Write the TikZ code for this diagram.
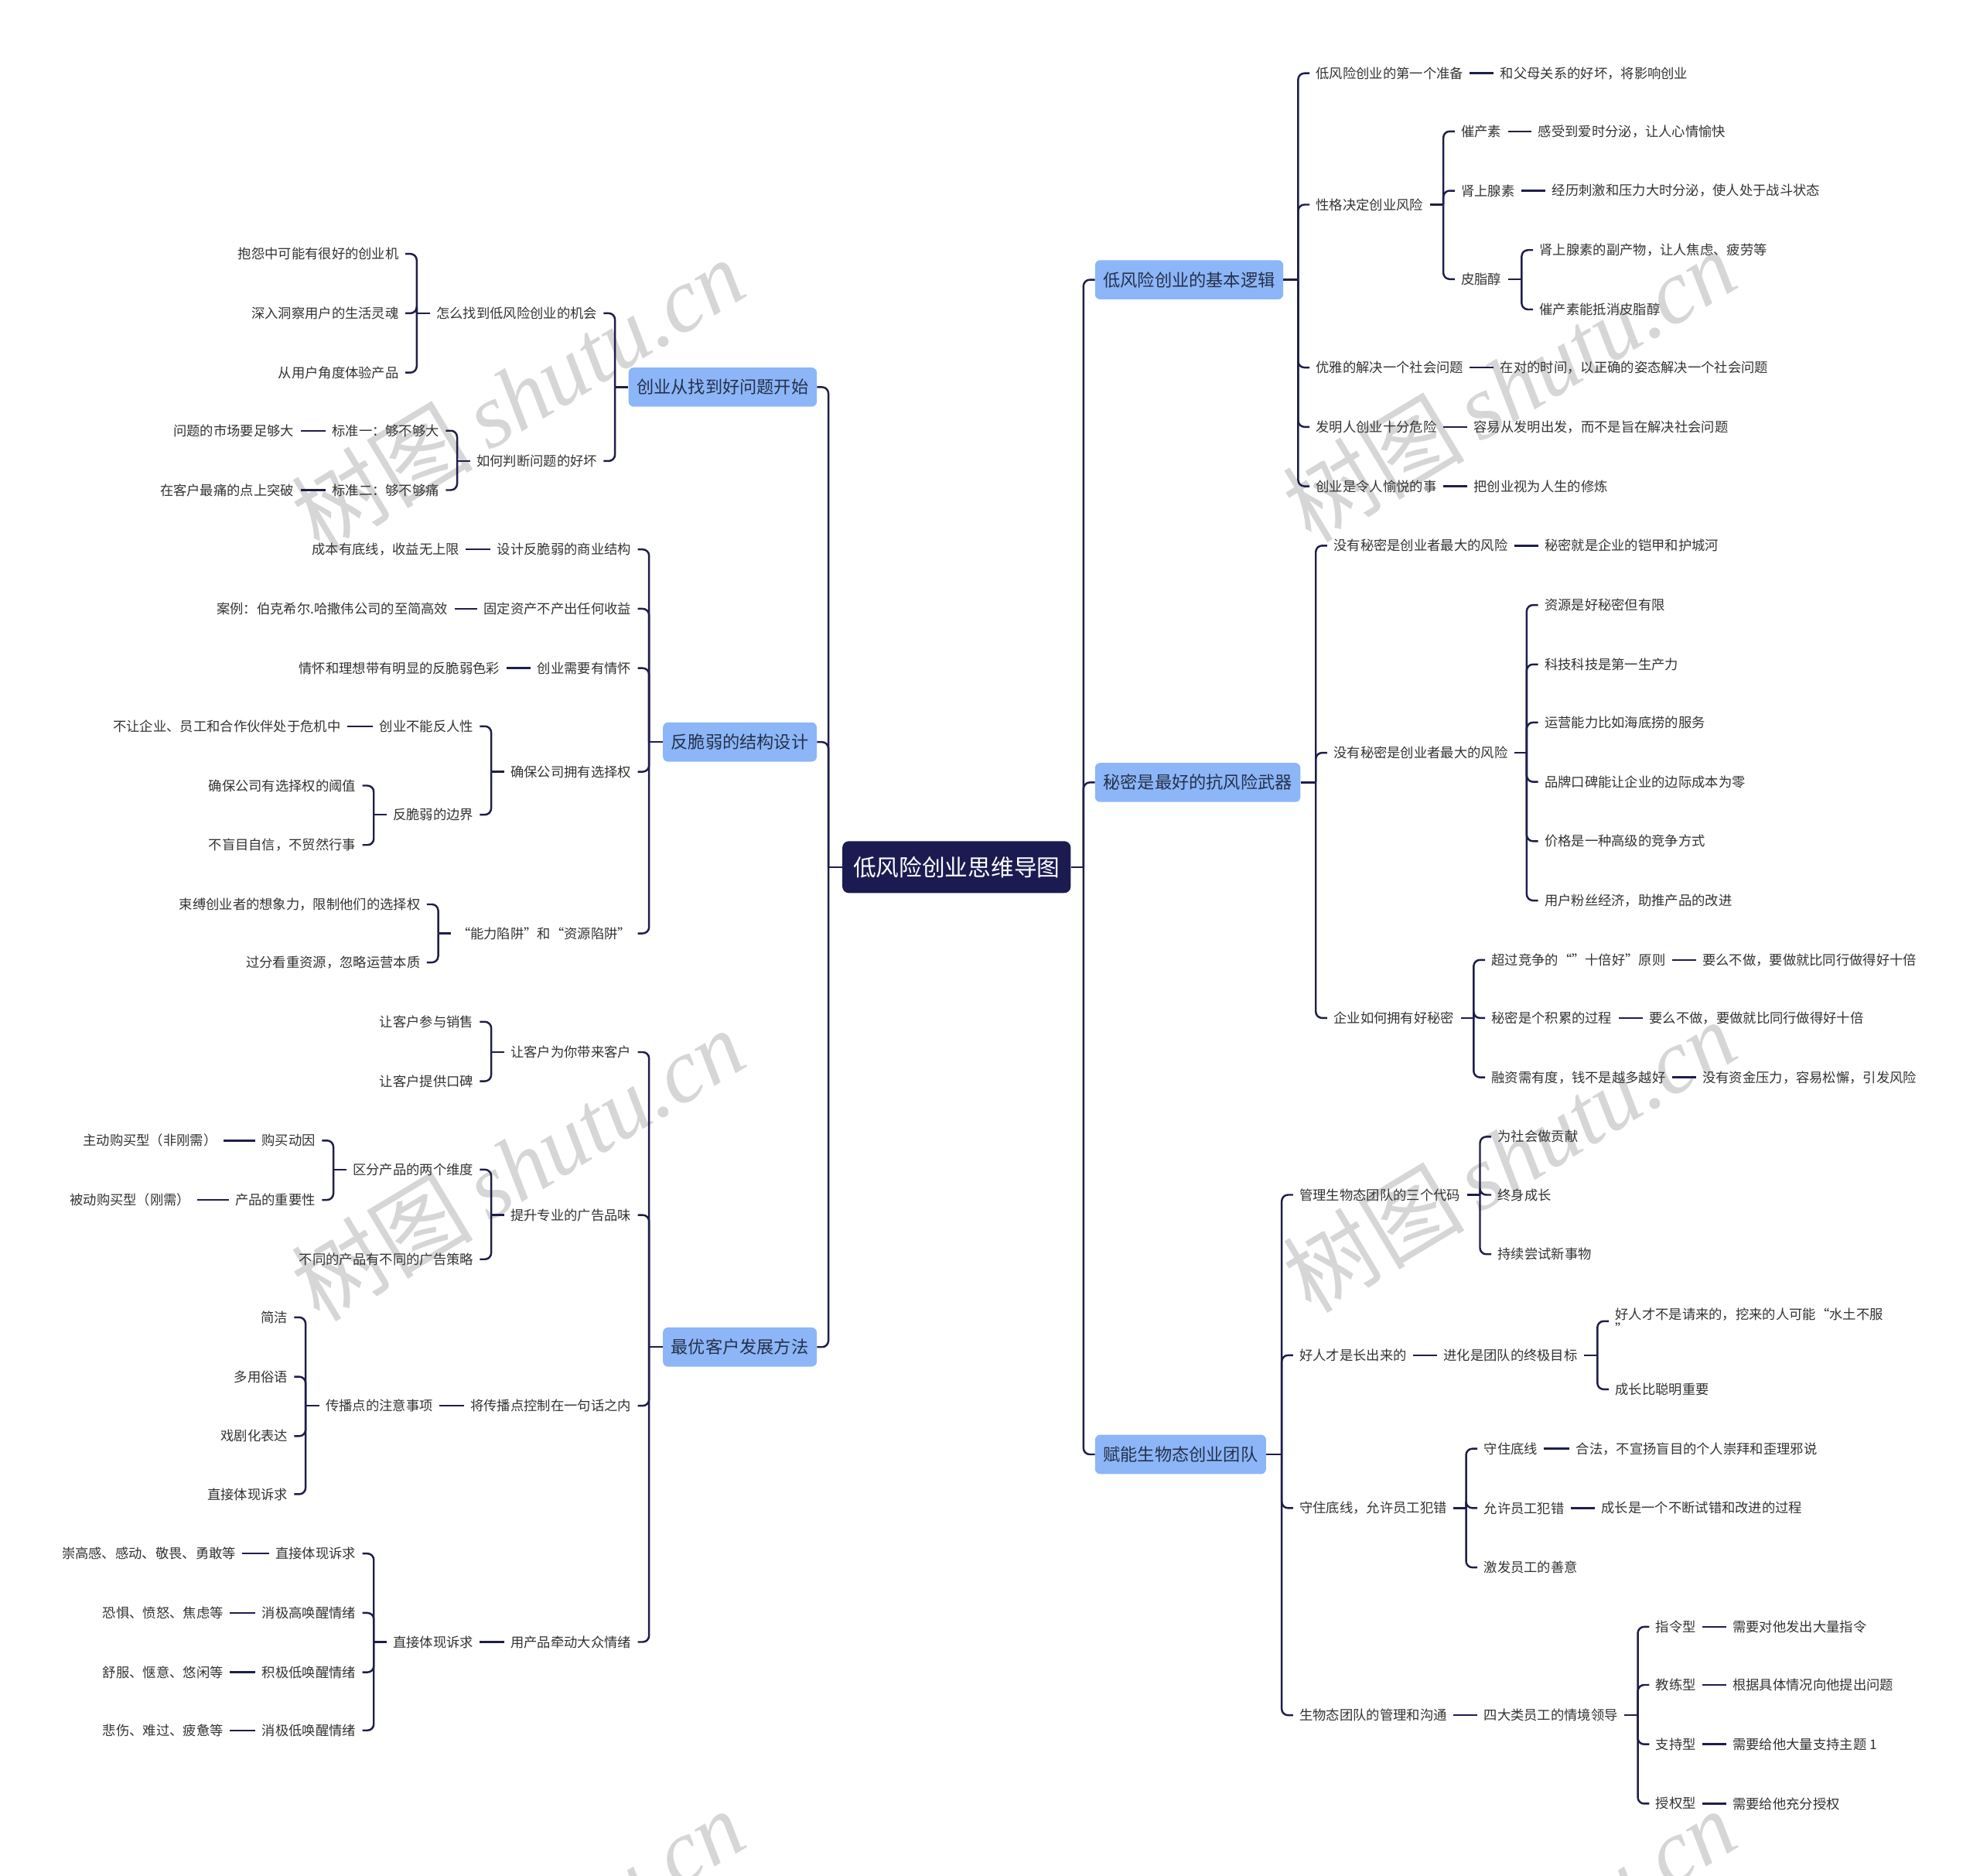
\documentclass[tikz,border=0pt]{standalone}
\usepackage{fontspec}
\setmainfont{Noto Sans CJK SC}
\newfontfamily\wmserif{Liberation Serif}
\usetikzlibrary{calc}
\definecolor{linecol}{HTML}{1E1E4A}
\definecolor{boxfill}{HTML}{8CB6F7}
\definecolor{rootfill}{HTML}{1B1B52}
\definecolor{boxtext}{HTML}{26304A}
\definecolor{leaftext}{HTML}{333333}
\newcommand{\rbranch}[3]{%
  \coordinate (T) at ($(#2.west)+(-9,0)$);
  \draw[conn] (#1.east) -- (T |- #1.east);
  \foreach \kk in {#3}{\draw[conn] (T |- #1.east) |- (\kk.west);}
}
\newcommand{\lbranch}[3]{%
  \coordinate (T) at ($(#2.east)+(9,0)$);
  \draw[conn] (#1.west) -- (T |- #1.west);
  \foreach \kk in {#3}{\draw[conn] (T |- #1.west) |- (\kk.east);}
}
\newcommand{\rpair}[2]{\draw[conn] (#1.east) -- (#2.west);}
\newcommand{\lpair}[2]{\draw[conn] (#1.west) -- (#2.east);}
\begin{document}
\begin{tikzpicture}[x=1pt,y=-1pt,
  conn/.style={draw=linecol,line width=1.5pt,rounded corners=5pt},
  leaf/.style={font=\fontsize{10.6}{12}\selectfont,text=leaftext,inner xsep=5pt,inner ysep=2pt},
  rl/.style={leaf,anchor=west},
  ll/.style={leaf,anchor=east},
  mainbox/.style={fill=boxfill,rounded corners=4pt,font=\fontsize{13.6}{16}\selectfont,text=boxtext,inner xsep=6.5pt,minimum height=31pt},
  rootbox/.style={fill=rootfill,rounded corners=5pt,font=\fontsize{18.2}{22}\selectfont,text=white,inner xsep=8.5pt,minimum height=41pt},
  wm/.style={rotate=31,text=black!16,font=\fontsize{72}{72}\selectfont}]
\fill[white] (0,0) rectangle (1568,1485);
\useasboundingbox (0,0) rectangle (1568,1485);
\begin{scope}
\clip (0,0) rectangle (1568,1485);
\foreach \wx/\wy in {410/312,1195/305,410/922,1195/915,410/1540,1195/1540}
  \node[wm] at (\wx,\wy) {树图\,{\wmserif\itshape shutu.cn}};
\end{scope}

% root and main branches
\node[rootbox] (root) at (757.5,686.5) {低风险创业思维导图};
\node[mainbox,anchor=west] (r1) at (867,221.5) {低风险创业的基本逻辑};
\node[mainbox,anchor=west] (r2) at (867,619.5) {秘密是最好的抗风险武器};
\node[mainbox,anchor=west] (r3) at (867,1151.5) {赋能生物态创业团队};
\node[mainbox,anchor=east] (l1) at (647,306.5) {创业从找到好问题开始};
\node[mainbox,anchor=east] (l2) at (647,587.5) {反脆弱的结构设计};
\node[mainbox,anchor=east] (l3) at (647,1066.5) {最优客户发展方法};

% R1
\node[rl] (a1) at (1037,58) {低风险创业的第一个准备};
\node[rl] (a1b) at (1183,58) {和父母关系的好坏，将影响创业};
\node[rl] (a2) at (1037,162) {性格决定创业风险};
\node[rl] (a21) at (1152,104) {催产素};
\node[rl] (a21b) at (1213,104) {感受到爱时分泌，让人心情愉快};
\node[rl] (a22) at (1152,151) {肾上腺素};
\node[rl] (a22b) at (1224,151) {经历刺激和压力大时分泌，使人处于战斗状态};
\node[rl] (a23) at (1152,221) {皮脂醇};
\node[rl] (a231) at (1214,198) {肾上腺素的副产物，让人焦虑、疲劳等};
\node[rl] (a232) at (1214,245) {催产素能抵消皮脂醇};
\node[rl] (a3) at (1037,291) {优雅的解决一个社会问题};
\node[rl] (a3b) at (1183,291) {在对的时间，以正确的姿态解决一个社会问题};
\node[rl] (a4) at (1037,338) {发明人创业十分危险};
\node[rl] (a4b) at (1162,338) {容易从发明出发，而不是旨在解决社会问题};
\node[rl] (a5) at (1037,385) {创业是令人愉悦的事};
\node[rl] (a5b) at (1162,385) {把创业视为人生的修炼};

% R2
\node[rl] (b1) at (1051,432) {没有秘密是创业者最大的风险};
\node[rl] (b1b) at (1218,432) {秘密就是企业的铠甲和护城河};
\node[rl] (b2) at (1051,596) {没有秘密是创业者最大的风险};
\node[rl] (b21) at (1218,479) {资源是好秘密但有限};
\node[rl] (b22) at (1218,526) {科技科技是第一生产力};
\node[rl] (b23) at (1218,572) {运营能力比如海底捞的服务};
\node[rl] (b24) at (1218,619) {品牌口碑能让企业的边际成本为零};
\node[rl] (b25) at (1218,666) {价格是一种高级的竞争方式};
\node[rl] (b26) at (1218,713) {用户粉丝经济，助推产品的改进};
\node[rl] (b3) at (1051,806) {企业如何拥有好秘密};
\node[rl] (b31) at (1176,760) {超过竞争的“”十倍好”原则};
\node[rl] (b31b) at (1343,760) {要么不做，要做就比同行做得好十倍};
\node[rl] (b32) at (1176,806) {秘密是个积累的过程};
\node[rl] (b32b) at (1301,806) {要么不做，要做就比同行做得好十倍};
\node[rl] (b33) at (1176,853) {融资需有度，钱不是越多越好};
\node[rl] (b33b) at (1343,853) {没有资金压力，容易松懈，引发风险};

% R3
\node[rl] (c1) at (1024,946) {管理生物态团队的三个代码};
\node[rl] (c11) at (1181,900) {为社会做贡献};
\node[rl] (c12) at (1181,946) {终身成长};
\node[rl] (c13) at (1181,993) {持续尝试新事物};
\node[rl] (c2) at (1024,1073) {好人才是长出来的};
\node[rl] (c2b) at (1138,1073) {进化是团队的终极目标};
\node[rl,align=left] (c21) at (1274,1046) {好人才不是请来的，挖来的人可能“水土不服\\”};
\node[rl] (c22) at (1274,1100) {成长比聪明重要};
\node[rl] (c3) at (1024,1194) {守住底线，允许员工犯错};
\node[rl] (c31) at (1170,1147) {守住底线};
\node[rl] (c31b) at (1243,1147) {合法，不宣扬盲目的个人崇拜和歪理邪说};
\node[rl] (c32) at (1170,1194) {允许员工犯错};
\node[rl] (c32b) at (1263,1194) {成长是一个不断试错和改进的过程};
\node[rl] (c33) at (1170,1241) {激发员工的善意};
\node[rl] (c4) at (1024,1358) {生物态团队的管理和沟通};
\node[rl] (c4b) at (1170,1358) {四大类员工的情境领导};
\node[rl] (c41) at (1306,1288) {指令型};
\node[rl] (c41b) at (1367,1288) {需要对他发出大量指令};
\node[rl] (c42) at (1306,1334) {教练型};
\node[rl] (c42b) at (1367,1334) {根据具体情况向他提出问题};
\node[rl] (c43) at (1306,1381) {支持型};
\node[rl] (c43b) at (1367,1381) {需要给他大量支持主题 1};
\node[rl] (c44) at (1306,1428) {授权型};
\node[rl] (c44b) at (1367,1428) {需要给他充分授权};

% L1
\node[ll] (d1) at (478,248) {怎么找到低风险创业的机会};
\node[ll] (d11) at (321,201) {抱怨中可能有很好的创业机};
\node[ll] (d12) at (321,248) {深入洞察用户的生活灵魂};
\node[ll] (d13) at (321,295) {从用户角度体验产品};
\node[ll] (d2) at (478,365) {如何判断问题的好坏};
\node[ll] (d21) at (353,341) {标准一：够不够大};
\node[ll] (d21b) at (238,341) {问题的市场要足够大};
\node[ll] (d22) at (353,388) {标准二：够不够痛};
\node[ll] (d22b) at (238,388) {在客户最痛的点上突破};

% L2
\node[ll] (e1) at (505,435) {设计反脆弱的商业结构};
\node[ll] (e1b) at (369,435) {成本有底线，收益无上限};
\node[ll] (e2) at (505,482) {固定资产不产出任何收益};
\node[ll] (e2b) at (360,482) {案例：伯克希尔.哈撒伟公司的至简高效};
\node[ll] (e3) at (505,529) {创业需要有情怀};
\node[ll] (e3b) at (401,529) {情怀和理想带有明显的反脆弱色彩};
\node[ll] (e4) at (505,611) {确保公司拥有选择权};
\node[ll] (e41) at (380,575) {创业不能反人性};
\node[ll] (e41b) at (275,575) {不让企业、员工和合作伙伴处于危机中};
\node[ll] (e42) at (380,645) {反脆弱的边界};
\node[ll] (e421) at (287,622) {确保公司有选择权的阈值};
\node[ll] (e422) at (287,669) {不盲目自信，不贸然行事};
\node[ll] (e5) at (505,739) {“能力陷阱”和“资源陷阱”};
\node[ll] (e51) at (338,716) {束缚创业者的想象力，限制他们的选择权};
\node[ll] (e52) at (338,762) {过分看重资源，忽略运营本质};

% L3
\node[ll] (f1) at (505,833) {让客户为你带来客户};
\node[ll] (f11) at (380,809) {让客户参与销售};
\node[ll] (f12) at (380,856) {让客户提供口碑};
\node[ll] (f2) at (505,962) {提升专业的广告品味};
\node[ll] (f21) at (380,926) {区分产品的两个维度};
\node[ll] (f211) at (255,903) {购买动因};
\node[ll] (f211b) at (177,903) {主动购买型（非刚需）};
\node[ll] (f212) at (255,950) {产品的重要性};
\node[ll] (f212b) at (156,950) {被动购买型（刚需）};
\node[ll] (f22) at (380,997) {不同的产品有不同的广告策略};
\node[ll] (f3) at (505,1113) {将传播点控制在一句话之内};
\node[ll] (f3b) at (348,1113) {传播点的注意事项};
\node[ll] (f31) at (233,1043) {简洁};
\node[ll] (f32) at (233,1090) {多用俗语};
\node[ll] (f33) at (233,1137) {戏剧化表达};
\node[ll] (f34) at (233,1183) {直接体现诉求};
\node[ll] (f4) at (505,1300) {用产品牵动大众情绪};
\node[ll] (f4b) at (380,1300) {直接体现诉求};
\node[ll] (f41) at (287,1230) {直接体现诉求};
\node[ll] (f41b) at (192,1230) {崇高感、感动、敬畏、勇敢等};
\node[ll] (f42) at (287,1277) {消极高唤醒情绪};
\node[ll] (f42b) at (182,1277) {恐惧、愤怒、焦虑等};
\node[ll] (f43) at (287,1324) {积极低唤醒情绪};
\node[ll] (f43b) at (182,1324) {舒服、惬意、悠闲等};
\node[ll] (f44) at (287,1370) {消极低唤醒情绪};
\node[ll] (f44b) at (182,1370) {悲伤、难过、疲惫等};

% connectors
\rbranch{root}{r1}{r1,r2,r3}
\lbranch{root}{l1}{l1,l2,l3}
\rbranch{r1}{a1}{a1,a2,a3,a4,a5}
\rbranch{a2}{a21}{a21,a22,a23}
\rbranch{a23}{a231}{a231,a232}
\rpair{a1}{a1b}\rpair{a21}{a21b}\rpair{a22}{a22b}\rpair{a3}{a3b}\rpair{a4}{a4b}\rpair{a5}{a5b}
\rbranch{r2}{b1}{b1,b2,b3}
\rbranch{b2}{b21}{b21,b22,b23,b24,b25,b26}
\rbranch{b3}{b31}{b31,b32,b33}
\rpair{b1}{b1b}\rpair{b31}{b31b}\rpair{b32}{b32b}\rpair{b33}{b33b}
\rbranch{r3}{c1}{c1,c2,c3,c4}
\rbranch{c1}{c11}{c11,c12,c13}
\rpair{c2}{c2b}
\rbranch{c2b}{c22}{c21,c22}
\rbranch{c3}{c31}{c31,c32,c33}
\rpair{c31}{c31b}\rpair{c32}{c32b}
\rpair{c4}{c4b}
\rbranch{c4b}{c41}{c41,c42,c43,c44}
\rpair{c41}{c41b}\rpair{c42}{c42b}\rpair{c43}{c43b}\rpair{c44}{c44b}

\lbranch{l1}{d1}{d1,d2}
\lbranch{d1}{d11}{d11,d12,d13}
\lbranch{d2}{d21}{d21,d22}
\lpair{d21}{d21b}\lpair{d22}{d22b}
\lbranch{l2}{e1}{e1,e2,e3,e4,e5}
\lpair{e1}{e1b}\lpair{e2}{e2b}\lpair{e3}{e3b}
\lbranch{e4}{e41}{e41,e42}
\lpair{e41}{e41b}
\lbranch{e42}{e421}{e421,e422}
\lbranch{e5}{e51}{e51,e52}
\lbranch{l3}{f1}{f1,f2,f3,f4}
\lbranch{f1}{f11}{f11,f12}
\lbranch{f2}{f21}{f21,f22}
\lbranch{f21}{f211}{f211,f212}
\lpair{f211}{f211b}\lpair{f212}{f212b}
\lpair{f3}{f3b}
\lbranch{f3b}{f31}{f31,f32,f33,f34}
\lpair{f4}{f4b}
\lbranch{f4b}{f41}{f41,f42,f43,f44}
\lpair{f41}{f41b}\lpair{f42}{f42b}\lpair{f43}{f43b}\lpair{f44}{f44b}
\end{tikzpicture}
\end{document}
